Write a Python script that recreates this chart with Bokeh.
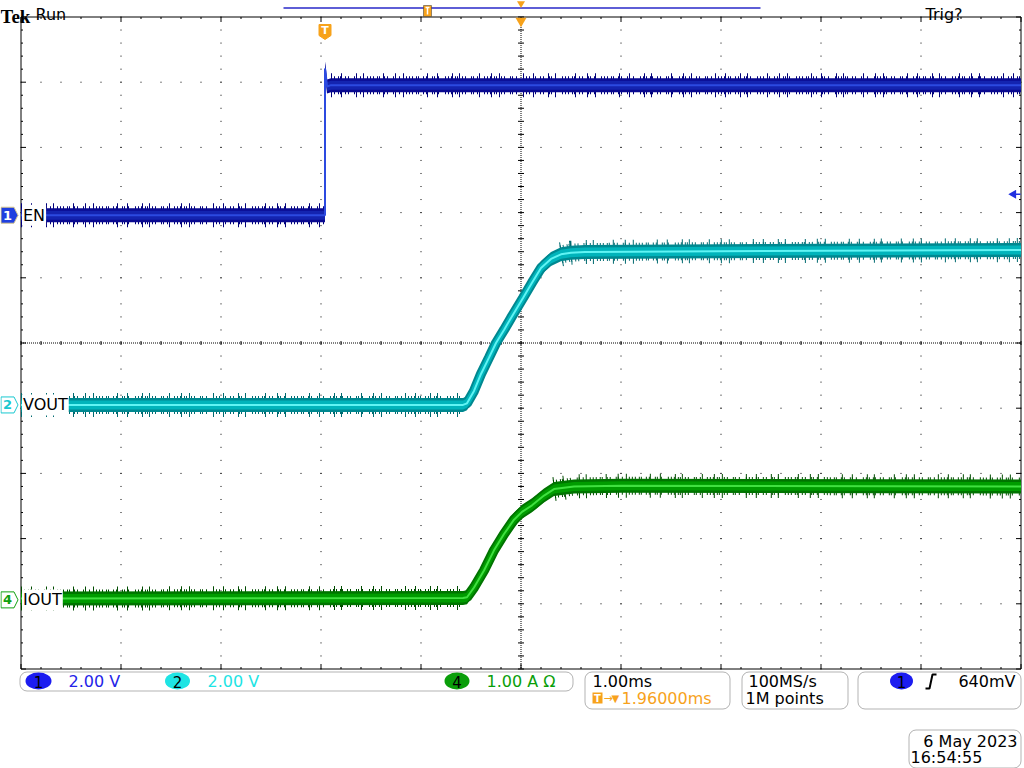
import math
from bokeh.plotting import figure
from bokeh.models import Range1d, Label, BoxAnnotation
from bokeh.embed import file_html
from bokeh.resources import INLINE

# ---------------- data (time in ms relative to trigger) ----------------
en_time = [-3.04, 0.00, 0.00, 0.005, 0.02, 0.06, 6.96]
en_volt = [0.00, 0.00, 4.50, 4.40, 3.95, 3.99, 3.99]

vout_time = [-3.04, 1.38, 1.42, 1.49, 1.56, 1.64, 1.71, 1.79, 1.86, 1.98,
             2.07, 2.16, 2.26, 2.36, 2.46, 2.60, 3.50, 6.96]
vout_volt = [0.00, 0.00, 0.05, 0.43, 0.95, 1.45, 1.90, 2.30, 2.67, 3.28,
             3.75, 4.20, 4.48, 4.62, 4.67, 4.69, 4.71, 4.75]

iout_time = [-3.04, 1.38, 1.42, 1.49, 1.59, 1.69, 1.79, 1.89, 1.97, 2.07,
             2.19, 2.29, 2.49, 2.96, 6.96]
iout_amp = [0.02, 0.03, 0.04, 0.19, 0.45, 0.76, 1.01, 1.23, 1.35, 1.45,
            1.60, 1.70, 1.74, 1.75, 1.74]

# ---------------- scope settings ----------------
time_per_div = 1.0      # ms/div
trigger_delay = 1.96    # ms, trigger -> screen centre
ch1_scale, ch2_scale, ch4_scale = 2.0, 2.0, 1.0   # per div
ch1_pos, ch2_pos, ch4_pos = 1.96, -0.95, -3.94     # div
trigger_level = 0.64    # V on ch1

channel_names = ["EN", "VOUT", "IOUT"]
scale_texts = ["2.00 V", "2.00 V", "1.00 A  \u03a9"]
timebase_text = "1.00ms"
delay_text = "1.96000ms"
sample_texts = ["100MS/s", "1M points"]
trigger_text = "640mV"
date_texts = ["6 May 2023", "16:54:55"]

# ---------------- layout ----------------
W, H = 1024, 768
GL, GT = 20.5, 16.5
DX, DY = 100.0, 65.2
GR, GB = GL + 10 * DX, GT + 10 * DY
CX, CY = GL + 5 * DX, GT + 5 * DY
FONT = "DejaVu Sans"

left_time = trigger_delay - 5 * time_per_div
x_rng = Range1d(left_time - GL / DX * time_per_div, left_time + (W - GL) / DX * time_per_div)
y0, y1 = -(H - CY) / DY, CY / DY
y_rng = Range1d(y0, y1)


def ch_range(pos, scale):
    return Range1d((y0 - pos) * scale, (y1 - pos) * scale)


p = figure(width=W, height=H, x_range=x_rng, y_range=y_rng,
           output_backend="svg", toolbar_location=None,
           x_axis_type=None, y_axis_type=None, min_border=0)
p.min_border_left = p.min_border_right = p.min_border_top = p.min_border_bottom = 0
p.outline_line_color = None
p.background_fill_color = "white"
p.border_fill_color = "white"
p.styles = {"position": "absolute", "left": "0px", "top": "0px"}
p.extra_x_ranges = {"px": Range1d(0, W)}
p.extra_y_ranges = {"py": Range1d(H, 0),
                    "ch1": ch_range(ch1_pos, ch1_scale),
                    "ch2": ch_range(ch2_pos, ch2_scale),
                    "ch4": ch_range(ch4_pos, ch4_scale)}

PX = dict(x_range_name="px", y_range_name="py")

# ---------------- graticule ----------------
dx0, dy0, dx1, dy1 = [], [], [], []
for k in range(1, 10):
    if k == 5:
        continue
    xg = GL + k * DX
    yg = GT + k * DY
    for i in range(51):
        ym = GT + i * DY / 5
        dx0.append(xg); dx1.append(xg); dy0.append(ym - 0.5); dy1.append(ym + 0.5)
        xm = GL + i * DX / 5
        dx0.append(xm - 0.5); dx1.append(xm + 0.5); dy0.append(yg); dy1.append(yg)
p.segment(x0=dx0, y0=dy0, x1=dx1, y1=dy1, line_color="black", line_width=1, **PX)
p.segment(x0=[CX], y0=[GT], x1=[CX], y1=[GB], line_color="black", line_width=1, line_dash="1 1", **PX)
p.segment(x0=[GL], y0=[CY], x1=[GR], y1=[CY], line_color="black", line_width=1, line_dash="1 1", **PX)

tx0, ty0, tx1, ty1 = [], [], [], []
for i in range(51):
    x = GL + i * DX / 5
    ln = 5 if i % 5 == 0 else 2
    tx0 += [x, x, x]; tx1 += [x, x, x]
    ty0 += [GT, GB - ln, CY - 2]; ty1 += [GT + ln, GB, CY + 2]
    y = GT + i * DY / 5
    tx0 += [GL, GR - ln, CX - 3]; tx1 += [GL + ln, GR, CX + 3]
    ty0 += [y, y, y]; ty1 += [y, y, y]
p.segment(x0=tx0, y0=ty0, x1=tx1, y1=ty1, line_color="black", line_width=1, **PX)
p.quad(left=[GL], right=[GR], top=[GT], bottom=[GB], fill_color=None,
       line_color="black", line_width=1, **PX)

# ---------------- traces ----------------
FUZZ_A = "1 2 1 3 1 1 1 4 1 2 1 5 1 1 1 3 1 6 1 2"
FUZZ_B = "1 9 1 14 1 6 1 19 1 11 1 7 1 23"


def trace(t, v, rng, scale, colors, fx, fy, smear=0):
    c_fuzz, c_out, c_mid, c_ctr = colors
    u = scale / DY
    p.multi_line(xs=fx, ys=fy, line_width=24, line_color=c_fuzz,
                 line_dash=FUZZ_B, y_range_name=rng)
    p.multi_line(xs=fx, ys=fy, line_width=18, line_color=c_fuzz,
                 line_dash=FUZZ_A, y_range_name=rng)
    if smear:
        p.line(t, v, line_width=smear, line_color=c_out, y_range_name=rng)
    p.varea(x=t, y1=[a - 7 * u for a in v], y2=[a + 7 * u for a in v],
            fill_color=c_out, y_range_name=rng)
    if smear:
        p.line(t, v, line_width=smear - 4, line_color=c_mid, y_range_name=rng)
    p.varea(x=t, y1=[a - 4.5 * u for a in v], y2=[a + 4.5 * u for a in v],
            fill_color=c_mid, y_range_name=rng)
    p.line(t, v, line_width=2, line_color=c_ctr, y_range_name=rng)


trace(en_time, en_volt, "ch1", ch1_scale, ("#00007a", "#0a0a90", "#1424b0", "#2c4ae0"),
      [en_time[:2], en_time[5:]], [en_volt[:2], en_volt[5:]])
trace(vout_time, vout_volt, "ch2", ch2_scale, ("#006a70", "#008890", "#00b4bb", "#60f4f4"),
      [vout_time[:2], vout_time[13:]], [vout_volt[:2], vout_volt[13:]], smear=10)
trace(iout_time, iout_amp, "ch4", ch4_scale, ("#004c00", "#007400", "#009c00", "#40e040"),
      [iout_time[:2], iout_time[11:]], [iout_amp[:2], iout_amp[11:]], smear=10)

# ---------------- channel markers & labels ----------------
marks = [("1", ch1_pos, "#1f3fe0", "#d8c890", "white", "ch1"),
         ("2", ch2_pos, "white", "#18c8d0", "#18c8d0", "ch2"),
         ("4", ch4_pos, "white", "#10a010", "#10a010", "ch4")]
for (num, pos, fill, line, tcol, rng), name in zip(marks, channel_names):
    cy = CY - pos * DY
    p.patch(x=[0.5, 13.5, 17.5, 13.5, 0.5], y=[cy - 8, cy - 8, cy, cy + 8, cy + 8],
            fill_color=fill, line_color=line, line_width=1, **PX)
    p.add_layout(Label(x=7, y=cy, text=num, text_align="center", text_baseline="middle",
                       text_font=FONT, text_font_size="13px",
                       text_font_style="bold", text_color=tcol, **PX))
    p.add_layout(Label(x=21.5, y=0, text=name, x_range_name="px", y_range_name=rng,
                       text_align="left", text_baseline="middle",
                       text_font=FONT, text_font_size="16px",
                       text_color="black", background_fill_color="white",
                       padding=1))

# ---------------- header ----------------
ORANGE = "#f7a21b"
p.add_layout(Label(x=0, y=16, text="Tek", text_baseline="alphabetic", text_font="Liberation Serif",
                   text_font_size="19px", text_font_style="bold", text_color="black", **PX))
p.add_layout(Label(x=35, y=14, text="Run", text_baseline="alphabetic", text_font=FONT,
                   text_font_size="16px", text_color="black", **PX))
p.add_layout(Label(x=925, y=14, text="Trig?", text_baseline="alphabetic", text_font=FONT,
                   text_font_size="16px", text_color="black", **PX))
p.segment(x0=[283], y0=[7.5], x1=[760], y1=[7.5], line_color="#2828c8", line_width=1.5, **PX)
p.quad(left=[423], right=[431], top=[5], bottom=[16], fill_color=ORANGE, line_color="#303030",
       line_width=0.5, **PX)
p.segment(x0=[425, 427], y0=[7, 7], x1=[429, 427], y1=[7, 14], line_color="white", line_width=1.5, **PX)
p.scatter(x=[CX], y=[3], marker="inverted_triangle", size=8, fill_color=ORANGE, line_color=None, **PX)
p.scatter(x=[CX], y=[GT + 4], marker="inverted_triangle", size=11, fill_color=ORANGE, line_color=None, **PX)

trig_x = GL + (0 - left_time) / time_per_div * DX
p.patch(x=[trig_x - 6, trig_x + 6, trig_x + 6, trig_x, trig_x - 6],
        y=[24, 24, 35, 39, 35], fill_color=ORANGE, line_color=ORANGE, **PX)
p.add_layout(Label(x=trig_x, y=30, text="T", text_align="center", text_baseline="middle",
                   text_font=FONT, text_font_size="11px", text_font_style="bold",
                   text_color="white", **PX))

# trigger level arrow on the right
p.scatter(x=[1013], y=[trigger_level], marker="triangle", angle=math.pi / 2, size=9,
          fill_color="#2030e0", line_color=None, x_range_name="px", y_range_name="ch1")
p.segment(x0=[1015], y0=[trigger_level], x1=[1020], y1=[trigger_level], line_color="#2030e0",
          line_width=1.5, x_range_name="px", y_range_name="ch1")


# ---------------- status bar ----------------
def box(l, r, t, b):
    p.add_layout(BoxAnnotation(left=l, right=r, top=t, bottom=b, fill_color=None, fill_alpha=0,
                               line_color="black", line_width=1, border_radius=7,
                               level="underlay", **PX))


def txt(x, y, s, color="black", size="15px", align="left", bold=False):
    p.add_layout(Label(x=x, y=y, text=s, text_align=align, text_baseline="middle",
                       text_font=FONT, text_font_size=size,
                       text_font_style="bold" if bold else "normal", text_color=color, **PX))


box(19.5, 572.5, 671.5, 690.5)
box(584.5, 729.5, 671.5, 708.5)
box(741.5, 847.5, 671.5, 708.5)
box(857.5, 1020.5, 671.5, 708.5)
box(908.5, 1020.5, 729.5, 767.5)

BLUE_T, CYAN_T, GREEN_T = "#2424e8", "#1ee4e4", "#0a9e0a"
p.ellipse(x=[38, 177, 456.5, 901], y=[680.5] * 4, width=[26, 25, 25, 23], height=[17] * 4,
          fill_color=["#1c1cf0", "#1ee4e4", "#0a9e0a", "#1c1cf0"], line_color=None, **PX)
for x, s in zip([38, 177, 456.5, 901], ["1", "2", "4", "1"]):
    txt(x, 681, s, "black", "15px", "center")
txt(68, 681, scale_texts[0], BLUE_T, "16px")
txt(207, 681, scale_texts[1], CYAN_T, "16px")
txt(486, 681, scale_texts[2], GREEN_T, "16px")

txt(592, 681, timebase_text, "black", "16px")
p.quad(left=[592], right=[602], top=[692], bottom=[703], fill_color=ORANGE, line_color=None, **PX)
txt(597, 697.5, "T", "white", "10px", "center", True)
txt(603, 698, "\u2192", ORANGE, "11px")
txt(611, 698, "\u25bc", ORANGE, "10px")
txt(621, 698, delay_text, ORANGE, "16px")

txt(748, 681, sample_texts[0], "black", "16px")
txt(745, 698, sample_texts[1], "black", "16px")

p.multi_line(xs=[[925, 929, 932, 936]], ys=[[688, 688, 674, 674]], line_color="black", line_width=2, **PX)
txt(1015, 681, trigger_text, "black", "16px", "right")

txt(1017, 741, date_texts[0], "black", "16px", "right")
txt(910, 757, date_texts[1], "black", "16px", "left")

open("out.html", "w").write(file_html(p, INLINE))
